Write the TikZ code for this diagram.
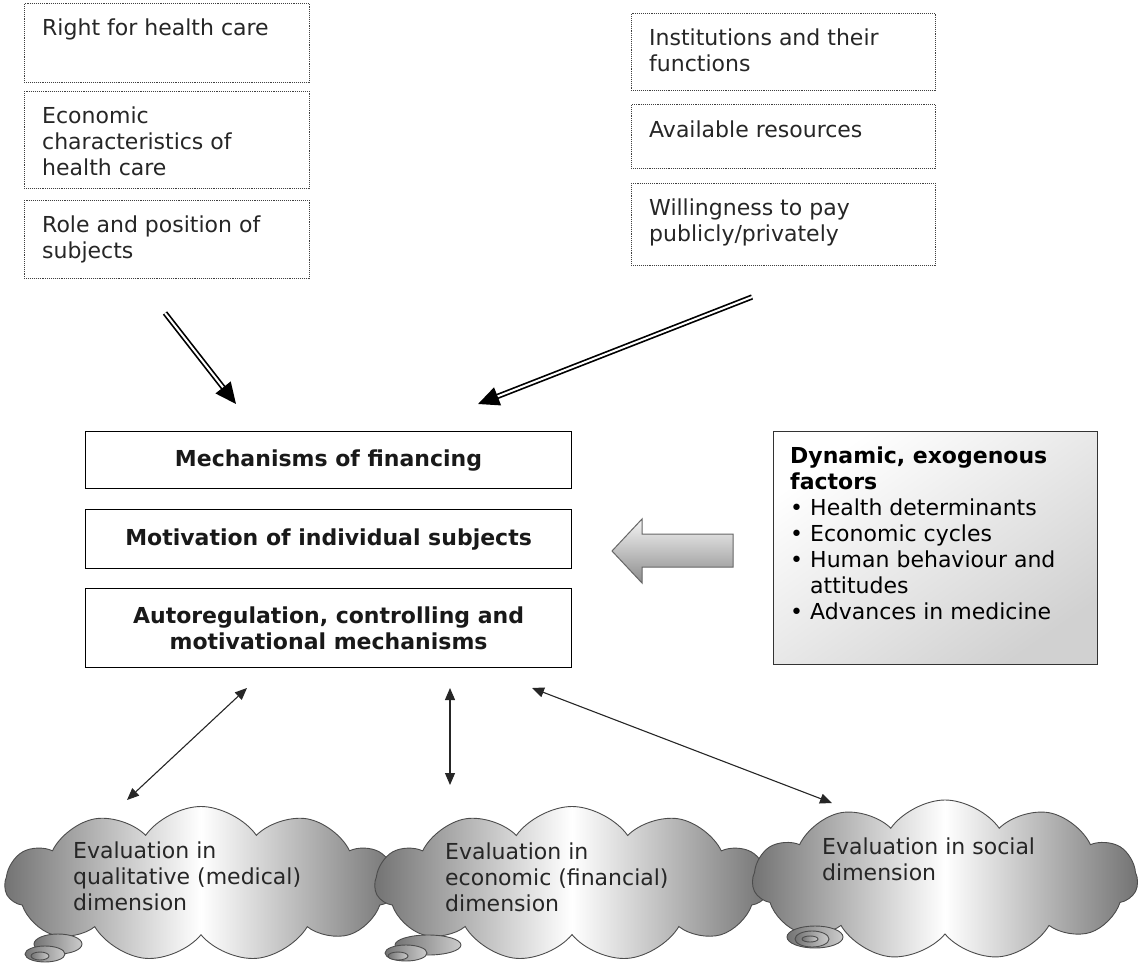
\documentclass[tikz,border=0pt]{standalone}
\usepackage{fontspec}
\setmainfont{DejaVu Sans}
\usetikzlibrary{shapes.symbols,arrows.meta,calc}
\newcommand{\mystrut}{\rule{0pt}{17pt}}
\begin{document}
\begin{tikzpicture}[x=1pt,y=-1pt,
  txt/.style={anchor=north west, inner sep=0pt, align=left, font=\fontsize{22}{26}\selectfont, text=black!85},
  dotbox/.style={draw=black!75, densely dotted, line width=0.9pt, anchor=north west, inner sep=0pt},
  mainbox/.style={draw=black, line width=1.1pt, anchor=north west, inner sep=0pt, minimum width=486pt, font=\bfseries\fontsize{22}{26}\selectfont, align=center, text=black!90},
  dbl/.style={double=white, double distance=2pt, line width=1.7pt, -{Triangle[length=21pt,width=19pt]}},
  bi/.style={line width=1.1pt, draw=black!85, {Triangle[length=12pt,width=10pt]}-{Triangle[length=12pt,width=10pt]}},
  cloudst/.style={cloud, cloud puffs=11, cloud puff arc=110, cloud ignores aspect, draw=black!70, line width=0.9pt, inner sep=0pt, left color=black!55, right color=black!55, middle color=white},
  tail/.style={draw=black!70, line width=0.9pt, left color=black!55, right color=black!20}
]
\useasboundingbox (0,0) rectangle (1142,965);

% top left boxes
\node[dotbox, minimum width=285pt, minimum height=79pt] (b1) at (24,3) {};
\node[dotbox, minimum width=285pt, minimum height=97pt] (b2) at (24,91) {};
\node[dotbox, minimum width=285pt, minimum height=78pt] (b3) at (24,200) {};
\node[txt] (t1) at (42,18) {\mystrut Right for health care};
\node[txt] (t2) at (42,106) {\mystrut Economic\\characteristics of\\health care};
\node[txt] (t3) at (42,215) {\mystrut Role and position of\\subjects};

% top right boxes
\node[dotbox, minimum width=304pt, minimum height=77pt] (b4) at (631,13) {};
\node[dotbox, minimum width=304pt, minimum height=64pt] (b5) at (631,104) {};
\node[dotbox, minimum width=304pt, minimum height=82pt] (b6) at (631,183) {};
\node[txt] (t4) at (649,28) {\mystrut Institutions and their\\functions};
\node[txt] (t5) at (649,120) {\mystrut Available resources};
\node[txt] (t6) at (649,198) {\mystrut Willingness to pay\\publicly/privately};

% double arrows
\coordinate (la1) at (165,313);
\coordinate (la2) at (236,404);
\coordinate (ra1) at (752,297);
\coordinate (ra2) at (478,404);
\draw[dbl] (la1) -- (la2);
\draw[dbl] (ra1) -- (ra2);

% main boxes
\node[mainbox, minimum height=57pt] (mA) at (85,431) {Mechanisms of financing};
\node[mainbox, minimum height=59pt] (mB) at (85,509) {Motivation of individual subjects};
\node[mainbox, minimum height=79pt] (mC) at (85,588) {Autoregulation, controlling and\\motivational mechanisms};

% grey box
\node[draw=black!80, line width=1pt, anchor=north west, inner sep=0pt, minimum width=324pt, minimum height=233pt,
      top color=white, bottom color=black!18, shading angle=35] (g) at (773,431) {};
\node[txt, text=black] (gt) at (790,446) {\mystrut\textbf{Dynamic, exogenous}\\\textbf{factors}\\
\makebox[20pt][l]{•}Health determinants\\
\makebox[20pt][l]{•}Economic cycles\\
\makebox[20pt][l]{•}Human behaviour and\\
\hspace*{20pt}attitudes\\
\makebox[20pt][l]{•}Advances in medicine};

% block arrow
\shadedraw[draw=black!60, line width=1pt, top color=white!96!black, bottom color=black!45]
  (612,551) -- (642,519) -- (642,534) -- (733,534) -- (733,567) -- (642,567) -- (642,583) -- cycle;

% bidirectional arrows
\coordinate (a1s) at (247,688);
\coordinate (a1e) at (127,800);
\coordinate (a2s) at (450,688);
\coordinate (a2e) at (450,785);
\coordinate (a3s) at (532,688);
\coordinate (a3e) at (832,803);
\draw[bi] (a1s) -- (a1e);
\draw[bi] (a2s) -- (a2e);
\draw[bi] (a3s) -- (a3e);

% clouds
\node[cloudst, minimum width=392pt, minimum height=155pt] (c1) at (201,884) {};
\draw[tail] (58,944) ellipse [x radius=24, y radius=10];
\draw[tail] (45,954) ellipse [x radius=20, y radius=8];
\draw[tail] (40,956) ellipse [x radius=9, y radius=4];
\node[txt] (ct1) at (73,841) {\mystrut Evaluation in\\qualitative (medical)\\dimension};

\node[cloudst, minimum width=394pt, minimum height=155pt] (c2) at (572,884) {};
\draw[tail] (428,945) ellipse [x radius=33, y radius=10];
\draw[tail] (406,953) ellipse [x radius=21, y radius=8];
\draw[tail] (398,956) ellipse [x radius=10, y radius=4];
\node[txt] (ct2) at (445,842) {\mystrut Evaluation in\\economic (financial)\\dimension};

\node[cloudst, minimum width=385pt, minimum height=160pt] (c3) at (945,880) {};
\draw[tail] (815,937) ellipse [x radius=28, y radius=11];
\draw[tail] (812,939) ellipse [x radius=17, y radius=8];
\draw[tail] (810,939) ellipse [x radius=8, y radius=3];
\node[txt] (ct3) at (822,837) {\mystrut Evaluation in social\\dimension};
\end{tikzpicture}
\end{document}
